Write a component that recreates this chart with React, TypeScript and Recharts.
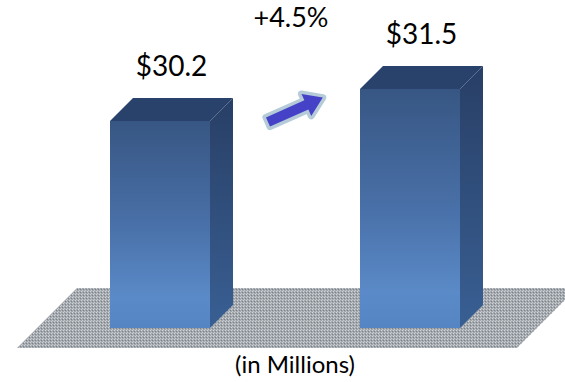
import { Bar, BarChart, LabelList, XAxis, YAxis } from "recharts"

const years = ["Prior Year", "Current Year"]
const revenue = [30.2, 31.5]
const valueLabels = ["$30.2", "$31.5"]
const changeLabel = "+4.5%"
const unitLabel = "(in Millions)"

const data = years.map((year, i) => ({ year, value: revenue[i], label: valueLabels[i] }))

const DEPTH = 23
const FONT = "Lato, 'Open Sans', sans-serif"

function Box3D(props: any) {
  const { x, y, width, height, index } = props
  const d = DEPTH
  const fid = `front-${index}`
  const sid = `side-${index}`
  return (
    <g>
      <defs>
        <linearGradient id={fid} x1="0" y1="0" x2="0" y2="1">
          <stop offset="0%" stopColor="#375683" />
          <stop offset="50%" stopColor="#4970a8" />
          <stop offset="85%" stopColor="#5a8ac7" />
          <stop offset="100%" stopColor="#5586c3" />
        </linearGradient>
        <linearGradient id={sid} x1="0" y1="0" x2="0" y2="1">
          <stop offset="0%" stopColor="#283f66" />
          <stop offset="100%" stopColor="#395f93" />
        </linearGradient>
      </defs>
      <polygon
        points={`${x + width},${y} ${x + width + d},${y - d} ${x + width + d},${y + height - d} ${x + width},${y + height}`}
        fill={`url(#${sid})`}
      />
      <polygon
        points={`${x},${y} ${x + d},${y - d} ${x + width + d},${y - d} ${x + width},${y}`}
        fill="#29426c"
      />
      <rect x={x} y={y} width={width} height={height} fill={`url(#${fid})`} />
    </g>
  )
}

function ValueLabel(props: any) {
  const { x, y, width, value } = props
  return (
    <text x={x + width / 2 + DEPTH / 2} y={y - 45} textAnchor="middle" fontFamily={FONT} fontSize={28} fill="#000">
      {value}
    </text>
  )
}

function Floor() {
  return (
    <svg width={565} height={382} style={{ position: "absolute", left: 0, top: 0 }}>
      <defs>
        <pattern id="floorPat" width="3" height="3" patternUnits="userSpaceOnUse">
          <rect width="3" height="3" fill="#a3a8ae" />
          <rect x="0" y="0" width="1" height="1" fill="#d2d5d8" />
          <rect x="2" y="1" width="1" height="1" fill="#7c828a" />
          <rect x="1" y="2" width="1" height="1" fill="#c6c9cc" />
        </pattern>
      </defs>
      <polygon points="77,288 577,288 517,348 17,348" fill="url(#floorPat)" />
    </svg>
  )
}

function Overlay() {
  return (
    <svg width={565} height={382} style={{ position: "absolute", left: 0, top: 0, pointerEvents: "none" }}>
      <text x={291} y={27} textAnchor="middle" fontFamily={FONT} fontSize={27} fill="#000">
        {changeLabel}
      </text>
      <g transform="translate(268,122) rotate(-24)">
        <path
          d="M0,-5 L42,-5 L42,-12 L60,0 L42,12 L42,5 L0,5 Z"
          fill="#b5ccd8"
          stroke="#b5ccd8"
          strokeWidth={7}
          strokeLinejoin="round"
        />
        <path d="M0,-5 L42,-5 L42,-12 L60,0 L42,12 L42,5 L0,5 Z" fill="#4542c8" />
      </g>
      <text x={295} y={373} textAnchor="middle" fontFamily={FONT} fontSize={24} fill="#000">
        {unitLabel}
      </text>
    </svg>
  )
}

export default function App() {
  return (
    <div style={{ position: "absolute", left: 0, top: 0, width: 565, height: 382, background: "#fff" }}>
      <Floor />
      <div style={{ position: "absolute", left: 0, top: 0 }}>
        <BarChart width={565} height={382} data={data} margin={{ top: 52, right: 30, bottom: 54, left: 35 }}>
          <XAxis dataKey="year" hide />
          <YAxis domain={[21.8, 33]} hide allowDataOverflow />
          <Bar dataKey="value" barSize={100} shape={<Box3D />} isAnimationActive={false}>
            <LabelList dataKey="label" content={<ValueLabel />} />
          </Bar>
        </BarChart>
      </div>
      <Overlay />
    </div>
  )
}
